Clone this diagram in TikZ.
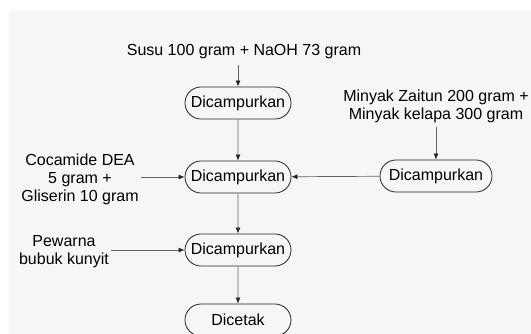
\documentclass[tikz,border=0pt]{standalone}
\usepackage{fontspec}
\setmainfont{Liberation Sans}
\usetikzlibrary{shapes.misc,arrows.meta}
\definecolor{panel}{RGB}{246,245,247}
\definecolor{linegray}{RGB}{100,100,100}
\tikzset{
  proc/.style={draw=black!85,line width=0.8pt,rounded rectangle,minimum width=110pt,minimum height=32pt,inner sep=2pt},
  inlabel/.style={align=center,inner sep=2pt},
  flow/.style={draw=linegray,line width=0.7pt,-{Latex[length=6pt,width=5pt,color=black!85]}}
}
\begin{document}
\begin{tikzpicture}[x=1pt,y=-1pt,font=\fontsize{16}{18}\selectfont]
\useasboundingbox (0,0) rectangle (531,334);
\fill[panel] (9,11) rectangle (531,334);
% steps
\node[proc] (mixa) at (238,103) {Dicampurkan};
\node[proc] (mixb) at (238,177) {Dicampurkan};
\node[proc] (mixc) at (238,250) {Dicampurkan};
\node[proc] (cetak) at (238,320) {Dicetak};
\node[proc,minimum width=116pt] (mixr) at (436,176) {Dicampurkan};
% inputs
\node[inlabel] (susu) at (244,52) {Susu 100 gram + NaOH 73 gram};
\node[inlabel] (minyak) at (436,106) {Minyak Zaitun 200 gram +\\Minyak kelapa 300 gram};
\node[inlabel] (coca) at (80,179) {Cocamide DEA\\5 gram +\\Gliserin 10 gram};
\node[inlabel] (pewarna) at (64,252) {Pewarna\\bubuk kunyit};
% arrows
\draw[flow] (susu.south -| mixa) ++(0,4) -- (mixa.north);
\draw[flow] (minyak.south) ++(0,2) -- (mixr.north);
\draw[flow] (mixr) -- (mixb);
\draw[flow] (coca.east |- mixb) -- (mixb.west);
\draw[flow] (pewarna.east |- mixc) -- (mixc.west);
\draw[flow] (mixa) -- (mixb);
\draw[flow] (mixb) -- (mixc);
\draw[flow] (mixc) -- (cetak);
\end{tikzpicture}
\end{document}
